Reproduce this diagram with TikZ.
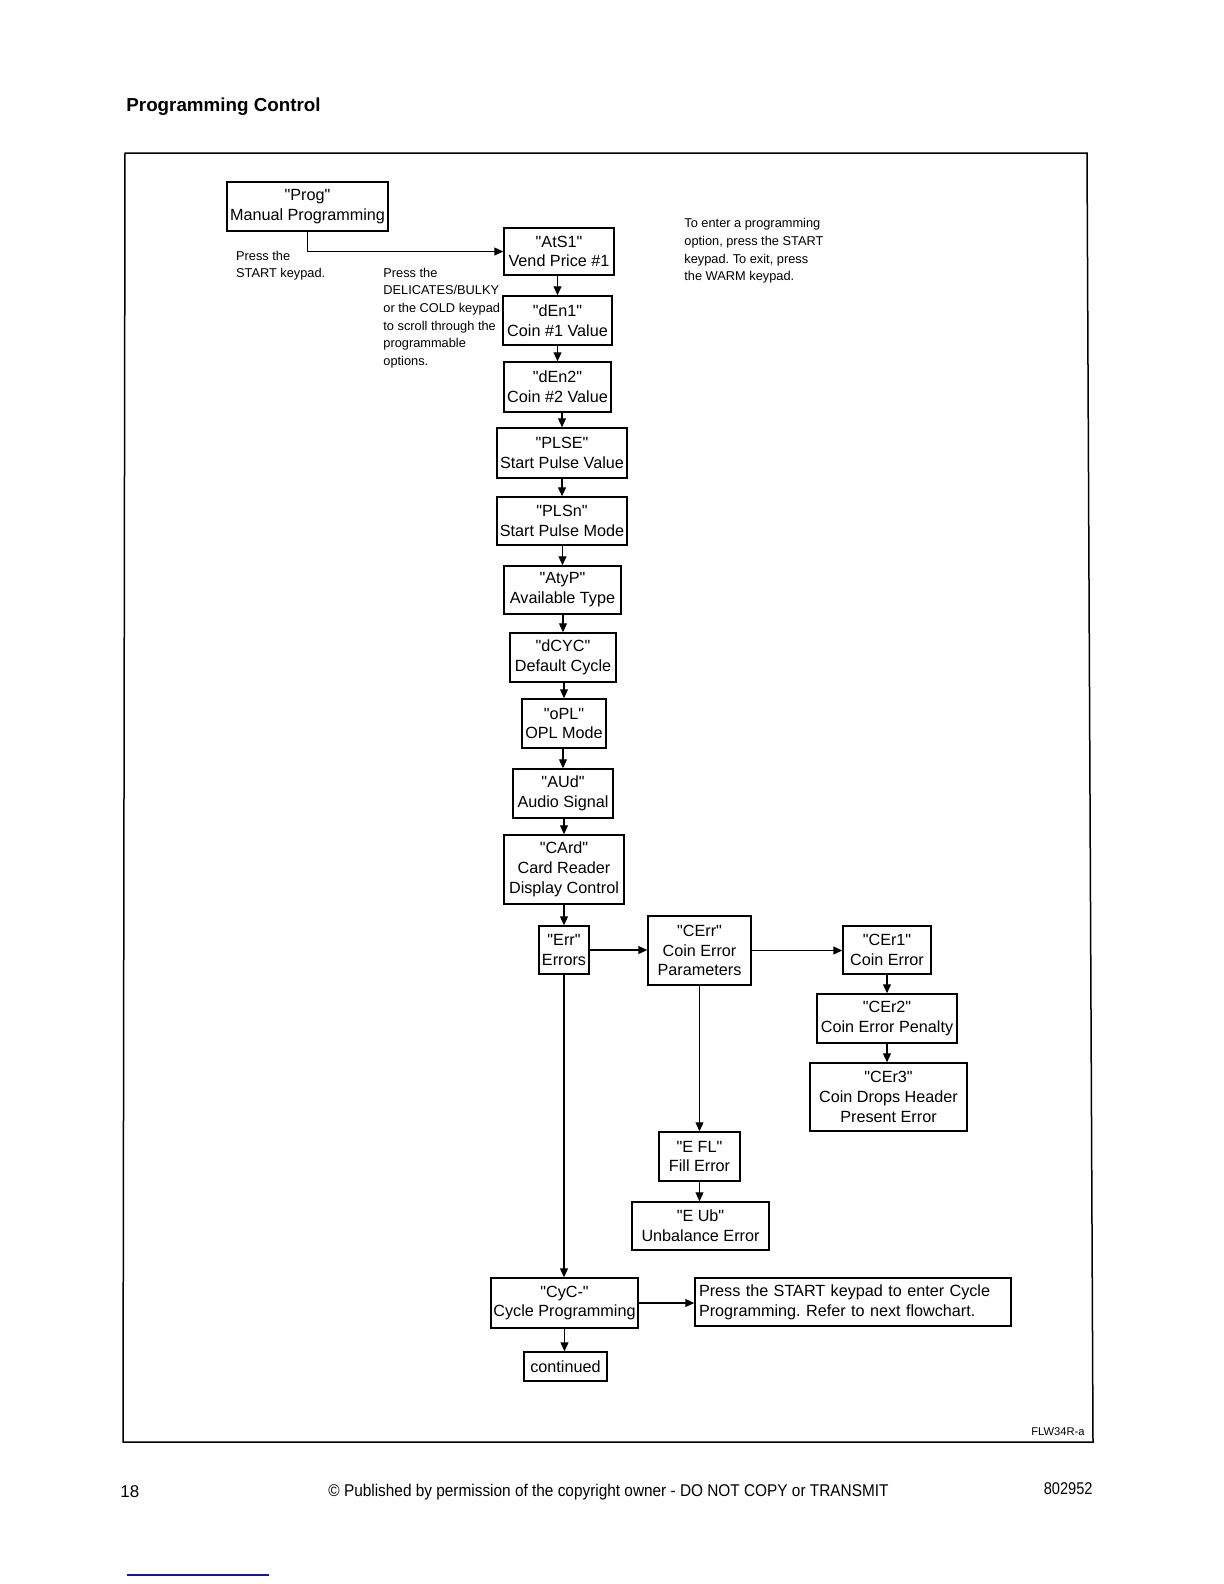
\documentclass[tikz,border=0pt]{standalone}
\usepackage{fontspec}
\setmainfont{Liberation Sans}[Ligatures=TeXOff]
\usetikzlibrary{arrows.meta}
\frenchspacing
\newcommand{\qq}{"}
\newcommand{\boxfont}{\fontsize{8.1}{9.9}\selectfont}
\newcommand{\notefont}{\fontsize{6.4}{8.85}\selectfont}
\newcommand{\fbx}[6]{\node[box, minimum width={(#4-#2)*0.5pt}, minimum height={(#5-#3)*0.5pt}] (#1) at ({(#2+#4)/2},{(#3+#5)/2}) {#6};}
\tikzset{
  box/.style={draw, line width=0.75pt, inner sep=0pt, align=center, font=\boxfont},
  arr/.style={line width=0.6pt, -{Triangle[length=4.5pt,width=4pt]}},
  note/.style={inner sep=0pt, align=left, font=\notefont, anchor=north west},
  frame/.style={line width=0.75pt}
}
\begin{document}
\begin{tikzpicture}[x=0.5pt,y=-0.5pt]
\useasboundingbox (0,0) rectangle (1224,1584);
% title
\node[anchor=base west, inner sep=0pt, font=\fontsize{9.4}{11}\selectfont\bfseries] (title) at (126,111.7) {Programming Control};
% frame
\draw[frame] (125,153) -- (1087,153) -- (1093,1442) -- (123,1442) -- cycle;
% boxes
\fbx{prog}{227}{182}{388}{231}{\qq Prog\qq\\Manual Programming}
\fbx{ats1}{504}{228}{614}{275}{\qq AtS1\qq\\Vend Price \#1}
\fbx{den1}{503}{296}{612}{345}{\qq dEn1\qq\\Coin \#1 Value}
\fbx{den2}{504}{362}{611}{412}{\qq dEn2\qq\\Coin \#2 Value}
\fbx{plse}{497}{428}{627}{478}{\qq PLSE\qq\\Start Pulse Value}
\fbx{plsn}{497}{497}{627}{545}{\qq PLSn\qq\\Start Pulse Mode}
\fbx{atyp}{504}{566}{621}{614}{\qq AtyP\qq\\Available Type}
\fbx{dcyc}{510}{633}{616}{682}{\qq dCYC\qq\\Default Cycle}
\fbx{opl}{522}{699}{606}{748}{\qq oPL\qq\\OPL Mode}
\fbx{aud}{513}{769}{613}{818}{\qq AUd\qq\\Audio Signal}
\fbx{card}{504}{835}{624}{904}{\qq CArd\qq\\Card Reader\\Display Control}
\fbx{err}{539}{926}{589}{974}{\qq Err\qq\\Errors}
\fbx{cerr}{648}{916}{751}{985}{\qq CErr\qq\\Coin Error\\Parameters}
\fbx{cer1}{843}{926}{931}{974}{\qq CEr1\qq\\Coin Error}
\fbx{cer2}{817}{994}{957}{1043}{\qq CEr2\qq\\Coin Error Penalty}
\fbx{cer3}{810}{1063}{967}{1131}{\qq CEr3\qq\\Coin Drops Header\\Present Error}
\fbx{efl}{659}{1132}{740}{1181}{\qq E FL\qq\\Fill Error}
\fbx{eub}{632}{1202}{769}{1250}{\qq E Ub\qq\\Unbalance Error}
\fbx{cyc}{491}{1278}{638}{1328}{\qq CyC-\qq\\Cycle Programming}
\node[box, align=left, inner sep=2pt, text width=154pt, minimum height=24pt] (press) at (853,1302) {Press the START keypad to enter Cycle\\Programming. Refer to next flowchart.};
\fbx{cont}{524}{1352}{607}{1381}{continued}
% notes
\node[note] (n1) at (235.7,250.5) {Press the\\START keypad.};
\node[note] (n2) at (383,267.5) {Press the\\DELICATES/BULKY\\or the COLD keypad\\to scroll through the\\programmable\\options.};
\node[note] (n3) at (684,218) {To enter a programming\\option, press the START\\keypad. To exit, press\\the WARM keypad.};
% connectors
\draw[arr] (prog.south) |- (ats1.west);
\draw[arr] (ats1.south -| den1.north) -- (den1.north);
\draw[arr] (den1.south -| den2.north) -- (den2.north);
\draw[arr] (den2.south -| plse.north) -- (plse.north);
\draw[arr] (plse.south -| plsn.north) -- (plsn.north);
\draw[arr] (plsn.south -| atyp.north) -- (atyp.north);
\draw[arr] (atyp.south -| dcyc.north) -- (dcyc.north);
\draw[arr] (dcyc.south -| opl.north) -- (opl.north);
\draw[arr] (opl.south -| aud.north) -- (aud.north);
\draw[arr] (aud.south -| card.north) -- (card.north);
\draw[arr] (card.south -| err.north) -- (err.north);
\draw[arr] (err.east) -- (err.east -| cerr.west);
\draw[arr] (cerr.east) -- (cerr.east -| cer1.west);
\draw[arr] (cer1.south) -- (cer1.south |- cer2.north);
\draw[arr] (cer2.south) -- (cer2.south |- cer3.north);
\draw[arr] (cerr.south) -- (cerr.south |- efl.north);
\draw[arr] (efl.south) -- (efl.south |- eub.north);
\draw[arr] (err.south) -- (err.south |- cyc.north);
\draw[arr] (cyc.east) -- (cyc.east -| press.west);
\draw[arr] (cyc.south) -- (cyc.south |- cont.north);
% figure id and footer
\node[anchor=base east, inner sep=0pt, font=\fontsize{5.6}{7}\selectfont] (fid) at (1085,1435.5) {FLW34R-a};
\node[anchor=base west, inner sep=0pt, font=\fontsize{8.5}{10}\selectfont] (pg) at (120,1497) {18};
\node[anchor=base west, inner sep=0pt, font=\fontsize{8.5}{10}\selectfont] (copy) at (328,1496) {\scalebox{0.905}[1]{© Published by permission of the copyright owner - DO NOT COPY or TRANSMIT}};
\node[anchor=base east, inner sep=0pt, font=\fontsize{8.5}{10}\selectfont] (docno) at (1093,1494) {\scalebox{0.86}[1]{802952}};
\draw[line width=0.75pt, color={rgb,255:red,20;green,20;blue,170}] (127,1575) -- (269,1575);
\end{tikzpicture}
\end{document}
